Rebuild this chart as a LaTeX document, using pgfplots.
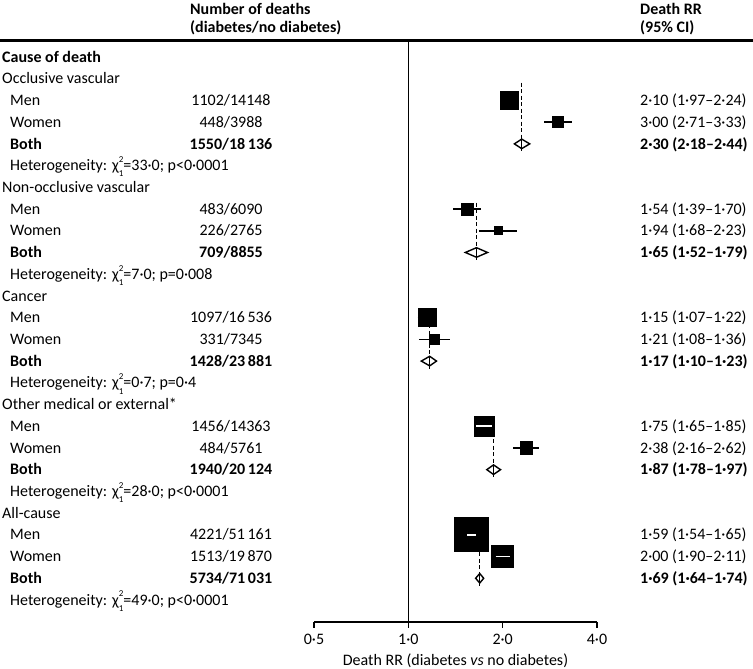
\documentclass[border=0pt]{standalone}
\usepackage{pgfplots}
\pgfplotsset{compat=1.18}
\usepackage{pgfplotstable}
\usepackage{fontspec}
\setmainfont{Carlito}
\newcommand\chisq{χ\rlap{\raisebox{0.52em}{\fontsize{9}{9}\selectfont 2}}\raisebox{-0.38em}{\fontsize{9}{9}\selectfont 1}}
\newcommand\fs{\fontsize{16}{19}\selectfont}
\begin{document}
\fs
% subgroup estimates: RR, 95% CI, row (y=-row), half side of square (pt), white CI inside square
\pgfplotstableread{
rr   lo   hi   y    h     w
2.10 1.97 2.24 -2   9.1   0
3.00 2.71 3.33 -3   5.8   0
1.54 1.39 1.70 -7   6.0   0
1.94 1.68 2.23 -8   4.2   0
1.15 1.07 1.22 -12  8.9   0
1.21 1.08 1.36 -13  5.0   0
1.75 1.65 1.85 -17  10.0  1
2.38 2.16 2.62 -18  6.1   0
1.59 1.54 1.65 -22  17.1  1
2.00 1.90 2.11 -23  10.9  1
}\subgroups
% pooled (both sexes) estimates
\pgfplotstableread{
rr   lo   hi   y    top
2.30 2.18 2.44 -4   -1.18
1.65 1.52 1.79 -9   -6.71
1.17 1.10 1.23 -14  -11.7
1.87 1.78 1.97 -19  -16.7
1.69 1.64 1.74 -24  -21.6
}\pooled
\begin{tikzpicture}
\useasboundingbox (0pt,0pt) rectangle (753pt,669pt);
\begin{axis}[
  at={(314pt,47pt)}, anchor=south west,
  scale only axis, width=283pt, height=582pt,
  xmode=log, log basis x=2,
  xmin=0.5, xmax=4, ymin=-26.013, ymax=0.7827,
  axis x line*=bottom, axis y line=none,
  axis line style={line width=1.5pt, black},
  xtick={0.5,1,2,4},
  xticklabels={0·5,1·0,2·0,4·0},
  xminorticks=false,
  ytick=\empty,
  tick align=outside,
  major tick length=6pt,
  tick style={line width=1.5pt, black},
  tick label style={font=\fs},
  xticklabel style={anchor=north, yshift=-1pt},
  xlabel={Death RR (diabetes \textit{vs} no diabetes)},
  xlabel style={font=\fs, at={(axis description cs:0.5,0)}, anchor=center, yshift=-39pt},
  clip=false,
  clip marker paths=true,
]
% reference line at RR = 1
\addplot[black, line width=1.5pt, forget plot] coordinates {(1,0.7827) (1,-26.013)};
% dashed lines at pooled estimates
\pgfplotsinvokeforeach{0,...,4}{%
  \pgfplotstablegetelem{#1}{rr}\of\pooled \edef\drr{\pgfplotsretval}%
  \pgfplotstablegetelem{#1}{y}\of\pooled \edef\dy{\pgfplotsretval}%
  \pgfplotstablegetelem{#1}{top}\of\pooled \edef\dtop{\pgfplotsretval}%
  \pgfmathsetmacro\dyt{\dy+0.21}%
  \edef\doplot{\noexpand\addplot[black, line width=1.4pt, dash pattern=on 4pt off 2.5pt, forget plot] coordinates {(\drr,\dtop) (\drr,\dyt)};}%
  \doplot
}
% confidence intervals
\pgfplotsinvokeforeach{0,...,9}{%
  \pgfplotstablegetelem{#1}{lo}\of\subgroups \edef\clo{\pgfplotsretval}%
  \pgfplotstablegetelem{#1}{hi}\of\subgroups \edef\chii{\pgfplotsretval}%
  \pgfplotstablegetelem{#1}{y}\of\subgroups \edef\cy{\pgfplotsretval}%
  \edef\doplot{\noexpand\addplot[black, line width=1.5pt, forget plot] coordinates {(\clo,\cy) (\chii,\cy)};}%
  \doplot
}
% squares
\addplot[only marks, mark=square*, scatter,
  scatter/use mapped color={draw=black, fill=black},
  visualization depends on={\thisrow{h} \as \sz},
  scatter/@pre marker code/.append style={/tikz/mark size=\sz},
  mark options={line width=0pt}]
  table[x=rr, y=y] {\subgroups};
% white CI where it lies inside the square
\pgfplotsinvokeforeach{6,8,9}{%
  \pgfplotstablegetelem{#1}{lo}\of\subgroups \edef\clo{\pgfplotsretval}%
  \pgfplotstablegetelem{#1}{hi}\of\subgroups \edef\chii{\pgfplotsretval}%
  \pgfplotstablegetelem{#1}{y}\of\subgroups \edef\cy{\pgfplotsretval}%
  \edef\doplot{\noexpand\addplot[white, line width=1.8pt, forget plot] coordinates {(\clo,\cy) (\chii,\cy)};}%
  \doplot
}
% diamonds
\pgfplotsinvokeforeach{0,...,4}{%
  \pgfplotstablegetelem{#1}{rr}\of\pooled \edef\drr{\pgfplotsretval}%
  \pgfplotstablegetelem{#1}{lo}\of\pooled \edef\dlo{\pgfplotsretval}%
  \pgfplotstablegetelem{#1}{hi}\of\pooled \edef\dhi{\pgfplotsretval}%
  \pgfplotstablegetelem{#1}{y}\of\pooled \edef\dy{\pgfplotsretval}%
  \pgfmathsetmacro\dyt{\dy+0.22}%
  \pgfmathsetmacro\dyb{\dy-0.22}%
  \pgfmathsetmacro\dybb{\dy-0.35}%
  \edef\doplot{\noexpand\addplot[black, line width=1.4pt, fill=white, forget plot] coordinates {(\dlo,\dy) (\drr,\dyt) (\dhi,\dy) (\drr,\dyb)} -- cycle;
    \noexpand\addplot[black, line width=1.4pt, forget plot] coordinates {(\drr,\dyt) (\drr,\dybb)};}%
  \doplot
}
\end{axis}
\draw[line width=2.2pt] (0pt,628.5pt) -- (753pt,628.5pt);
\begin{scope}[shift={(0pt,612pt)}, x=1pt, y=-21.72pt,
  every node/.style={inner sep=0pt, text height=10.3pt, text depth=0pt, font=\fs},
  L/.style={anchor=west}, N/.style={anchor=center}]
\node[L] at (190,-2.18) {\textbf{Number of deaths}};
\node[L] at (190,-1.36) {\textbf{(diabetes/no diabetes)}};
\node[L] at (640,-2.18) {\textbf{Death RR}};
\node[L] at (640,-1.36) {\textbf{(95\% CI)}};
\node[L] at (2,0) {\textbf{Cause of death}};
% Occlusive vascular
\node[L] at (2,1) {Occlusive vascular};
\node[L] at (10,2) {Men};   \node[N] at (231,2) {1102/14148};  \node[L] at (640,2) {2·10 (1·97–2·24)};
\node[L] at (10,3) {Women}; \node[N] at (231,3) {448/3988};    \node[L] at (640,3) {3·00 (2·71–3·33)};
\node[L] at (10,4) {\textbf{Both}}; \node[N] at (231,4) {\textbf{1550/18\,136}}; \node[L] at (640,4) {\textbf{2·30 (2·18–2·44)}};
\node[L] at (10,5) {Heterogeneity: \chisq=33·0; p<0·0001};
% Non-occlusive vascular
\node[L] at (2,6) {Non-occlusive vascular};
\node[L] at (10,7) {Men};   \node[N] at (231,7) {483/6090};  \node[L] at (640,7) {1·54 (1·39–1·70)};
\node[L] at (10,8) {Women}; \node[N] at (231,8) {226/2765};  \node[L] at (640,8) {1·94 (1·68–2·23)};
\node[L] at (10,9) {\textbf{Both}}; \node[N] at (231,9) {\textbf{709/8855}}; \node[L] at (640,9) {\textbf{1·65 (1·52–1·79)}};
\node[L] at (10,10) {Heterogeneity: \chisq=7·0; p=0·008};
% Cancer
\node[L] at (2,11) {Cancer};
\node[L] at (10,12) {Men};   \node[N] at (231,12) {1097/16\,536}; \node[L] at (640,12) {1·15 (1·07–1·22)};
\node[L] at (10,13) {Women}; \node[N] at (231,13) {331/7345};     \node[L] at (640,13) {1·21 (1·08–1·36)};
\node[L] at (10,14) {\textbf{Both}}; \node[N] at (231,14) {\textbf{1428/23\,881}}; \node[L] at (640,14) {\textbf{1·17 (1·10–1·23)}};
\node[L] at (10,15) {Heterogeneity: \chisq=0·7; p=0·4};
% Other
\node[L] at (2,16) {Other medical or external*};
\node[L] at (10,17) {Men};   \node[N] at (231,17) {1456/14363}; \node[L] at (640,17) {1·75 (1·65–1·85)};
\node[L] at (10,18) {Women}; \node[N] at (231,18) {484/5761};   \node[L] at (640,18) {2·38 (2·16–2·62)};
\node[L] at (10,19) {\textbf{Both}}; \node[N] at (231,19) {\textbf{1940/20\,124}}; \node[L] at (640,19) {\textbf{1·87 (1·78–1·97)}};
\node[L] at (10,20) {Heterogeneity: \chisq=28·0; p<0·0001};
% All-cause
\node[L] at (2,21) {All-cause};
\node[L] at (10,22) {Men};   \node[N] at (231,22) {4221/51\,161}; \node[L] at (640,22) {1·59 (1·54–1·65)};
\node[L] at (10,23) {Women}; \node[N] at (231,23) {1513/19\,870}; \node[L] at (640,23) {2·00 (1·90–2·11)};
\node[L] at (10,24) {\textbf{Both}}; \node[N] at (231,24) {\textbf{5734/71\,031}}; \node[L] at (640,24) {\textbf{1·69 (1·64–1·74)}};
\node[L] at (10,25) {Heterogeneity: \chisq=49·0; p<0·0001};
\end{scope}
\end{tikzpicture}
\end{document}
